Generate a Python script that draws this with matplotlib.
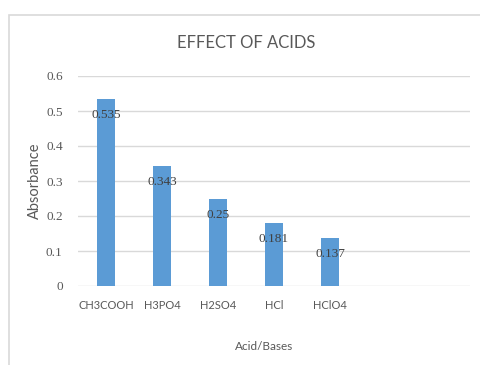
import matplotlib
matplotlib.use('Agg')
import matplotlib.pyplot as plt
from matplotlib.patches import Rectangle

# acids tested and measured absorbance
acids = ["CH3COOH", "H3PO4", "H2SO4", "HCl", "HClO4", "", ""]
absorbance = [0.535, 0.343, 0.25, 0.181, 0.137, None, None]
yticks = [0, 0.1, 0.2, 0.3, 0.4, 0.5, 0.6]

sans = ['Lato', 'DejaVu Sans']
serif = ['Liberation Serif', 'DejaVu Serif']
grey = '#595959'

fig = plt.figure(figsize=(4.81, 3.65), dpi=100)
W, H = 481, 365

# chart border
fig.patches.append(Rectangle((9 / W, -0.1), 1.1, (H - 15) / H + 0.1,
                             transform=fig.transFigure, fill=False,
                             edgecolor='#d9d9d9', linewidth=1.2))

ax = fig.add_axes([78 / W, 79 / H, 392 / W, 210 / H])
x = list(range(len(acids)))
n = sum(v is not None for v in absorbance)
ax.bar(x[:n], absorbance[:n], width=0.32, color='#5b9bd5', zorder=3)

for i, v in enumerate(absorbance[:n]):
    ax.annotate(str(v), (i, v), xytext=(0, -16), textcoords='offset pixels',
                ha='center', va='center', fontsize=9.5, family=serif,
                color='#404040', zorder=4)

ax.set_xlim(-0.5, len(acids) - 0.5)
ax.set_ylim(0, 0.6)
ax.set_yticks(yticks)
ax.set_yticklabels([f"{t:g}" for t in yticks], family=serif, fontsize=9.5, color=grey)
ax.set_xticks(x)
ax.set_xticklabels(acids, family=sans, fontsize=8, color=grey)
ax.tick_params(length=0, pad=10)
ax.tick_params(axis='y', pad=11)
ax.grid(axis='y', color='#d9d9d9', linewidth=1, zorder=0)
for s in ax.spines.values():
    s.set_visible(False)

fig.text(246 / W, 1 - 43 / H, "EFFECT OF ACIDS", ha='center', va='center',
         family=sans, fontsize=12, color=grey)
fig.text(264 / W, 1 - 347 / H, "Acid/Bases", ha='center', va='center',
         family=sans, fontsize=8.5, color=grey)
fig.text(35 / W, 1 - 181 / H, "Absorbance", ha='center', va='center',
         rotation=90, family=sans, fontsize=10.5, color=grey)

fig.savefig('out.png', dpi=100)
